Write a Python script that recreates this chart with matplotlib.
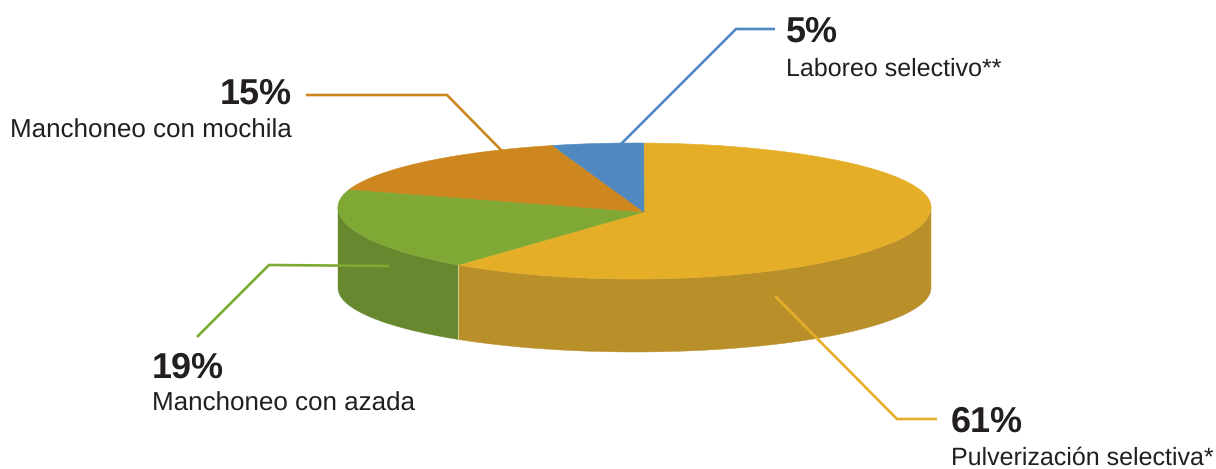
import numpy as np
import matplotlib
matplotlib.use("Agg")
import matplotlib.pyplot as plt

plt.rcParams["text.hinting"] = "none"
plt.rcParams["text.hinting_factor"] = 1

names = ["Pulverización selectiva*", "Manchoneo con azada", "Manchoneo con mochila", "Laboreo selectivo**"]
shares = [61, 19, 15, 5]
percent_labels = ["61%", "19%", "15%", "5%"]

top_colors = ["#E4AE27", "#80A834", "#CD871E", "#4F89C0"]
side_colors = ["#B98F2A", "#67882F", None, None]
line_colors = ["#E5AE2B", "#80A834", "#CC861E", "#4F89C0"]
text_color = "#231F20"

# the disc, in pixels: flattened ellipse a bit fuller at the front
cx, cy = 634.5, 207
rx = 296.5
ry_back, ry_front = 64, 72
apex_x, apex_y = 644, 212
bottom_cy, bottom_ry = 288, 64
flatten = 70

# leader lines and label anchors for each slice
leaders = [
    [(775, 296), (897, 419), (937, 419)],
    [(197, 337), (269, 265), (389, 266)],
    [(306, 95), (447, 95), (503, 152)],
    [(620, 145), (736, 29), (775, 29)],
]
pct_pos = [(951, 432), (152, 378), (220, 104), (786, 42)]
name_pos = [(951, 465), (152, 411), (10, 138), (786, 76)]
name_sizes = [18.05, 18.6, 18.85, 18.3]

# rim parameter, clockwise from the back of the disc
u = np.radians(np.linspace(0, 360, 7201))
rim_x = cx + rx * np.sin(u)
rim_y = cy - np.where(np.cos(u) > 0, ry_back, ry_front) * np.cos(u)
base_y = bottom_cy - bottom_ry * np.cos(u)

# angle of each rim point as seen from the apex, flattening undone
rim_ang = np.degrees(np.arctan2((rim_x - apex_x) / rx, (apex_y - rim_y) / flatten)) % 360

edges = np.cumsum([0] + shares) / sum(shares) * 360

fig = plt.figure(figsize=(12.16, 4.69), dpi=100)
ax = fig.add_axes([0, 0, 1, 1])
ax.set_xlim(0, 1216)
ax.set_ylim(469, 0)
ax.axis("off")

order = np.argsort(rim_ang)
front = np.cos(u) <= 0

# walls first
split = np.radians(np.interp(edges[1], rim_ang[order], np.degrees(u)[order]))
for i, (lo, hi) in enumerate([(np.pi / 2, split), (split, 3 * np.pi / 2)]):
    m = front & (u >= lo) & (u <= hi)
    xs = np.r_[rim_x[m], rim_x[m][::-1]]
    ys = np.r_[rim_y[m], base_y[m][::-1]]
    ax.fill(xs, ys, color=side_colors[i], lw=0.3, zorder=1)

sx = np.interp(split, u, rim_x)
ax.plot([sx, sx], [np.interp(split, u, rim_y), np.interp(split, u, base_y)],
        color="#C9CF8E", lw=0.8, zorder=2)

# top face slices
for i in range(len(shares)):
    a0, a1 = edges[i], edges[i + 1]
    m = (rim_ang[:-1] >= a0) & (rim_ang[:-1] <= a1)
    idx = np.where(m)[0]
    idx = idx[np.argsort(rim_ang[idx])]
    xs = np.r_[apex_x, rim_x[idx]]
    ys = np.r_[apex_y, rim_y[idx]]
    ax.fill(xs, ys, color=top_colors[i], lw=0.4, zorder=3)

for i in range(len(shares)):
    pts = np.array(leaders[i])
    ax.plot(pts[:, 0], pts[:, 1], color=line_colors[i], lw=1.9, zorder=4,
            solid_joinstyle="miter", solid_capstyle="butt")
    ax.text(pct_pos[i][0], pct_pos[i][1], percent_labels[i], family="Liberation Sans",
            weight="bold", fontsize=26, color=text_color, va="baseline", ha="left", zorder=5)
    ax.text(name_pos[i][0], name_pos[i][1], names[i], family="Liberation Sans",
            fontsize=name_sizes[i], color=text_color, va="baseline", ha="left", zorder=5)

fig.savefig("out.png", dpi=100, facecolor="white")
